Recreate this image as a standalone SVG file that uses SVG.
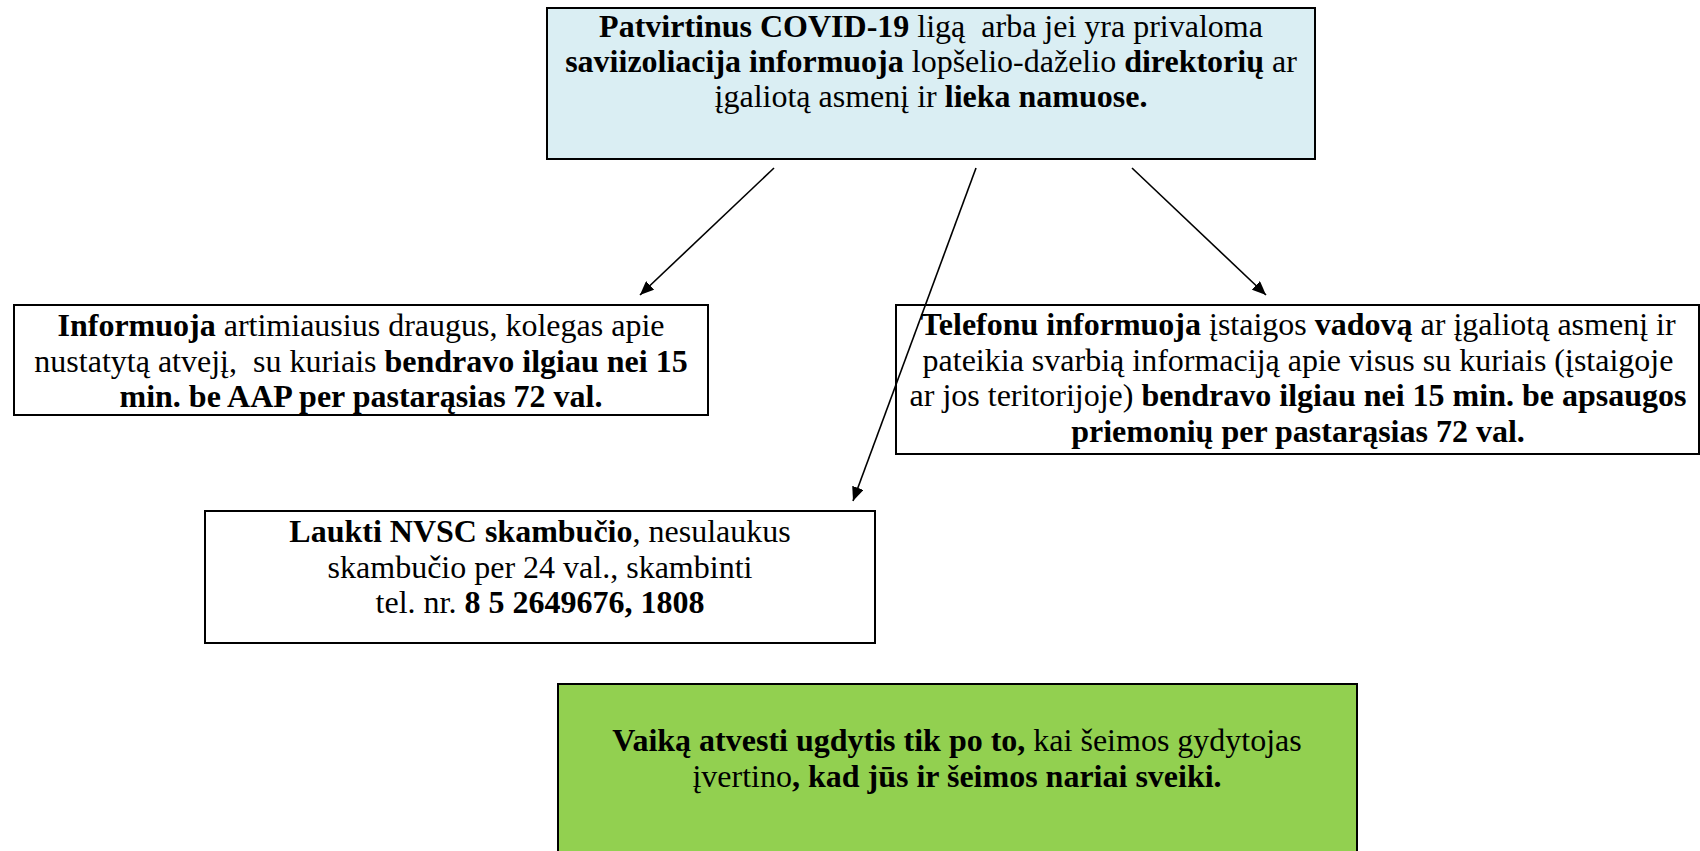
<svg xmlns="http://www.w3.org/2000/svg" width="1700" height="851" viewBox="0 0 1700 851">
<style>
.box{stroke:#000;stroke-width:2}
.t{font-family:"Liberation Serif","Times New Roman",serif;font-size:32px;fill:#000;text-anchor:middle;white-space:pre}
.b{font-weight:bold}
.c{stroke:#000;stroke-width:1.6;fill:none}
</style>
<defs>
<marker id="ah" viewBox="0 0 14 12" refX="14" refY="6" markerWidth="14" markerHeight="12" markerUnits="userSpaceOnUse" orient="auto">
<path d="M0,0 L14,6 L0,12 z" fill="#000"/>
</marker>
</defs>
<rect width="1700" height="851" fill="#fff"/>
<g id="top">
<rect class="box" x="547" y="8" width="768" height="151" fill="#DAEEF3"/>
<text class="t" x="931" y="37" xml:space="preserve"><tspan class="b">Patvirtinus COVID-19</tspan> ligą  arba jei yra privaloma</text>
<text class="t" x="931" y="72"><tspan class="b">saviizoliacija informuoja</tspan> lopšelio-daželio <tspan class="b">direktorių</tspan> ar</text>
<text class="t" x="931" y="107">įgaliotą asmenį ir <tspan class="b">lieka namuose.</tspan></text>
</g>
<g id="left">
<rect class="box" x="14" y="305" width="694" height="110" fill="#fff"/>
<text class="t" x="361" y="336"><tspan class="b">Informuoja</tspan> artimiausius draugus, kolegas apie</text>
<text class="t" x="361" y="372" xml:space="preserve">nustatytą atvejį,  su kuriais <tspan class="b">bendravo ilgiau nei 15</tspan></text>
<text class="t b" x="361" y="407">min. be AAP per pastarąsias 72 val.</text>
</g>
<g id="right">
<rect class="box" x="896" y="305" width="803" height="149" fill="#fff"/>
<text class="t" x="1298" y="335"><tspan class="b">Telefonu informuoja</tspan> įstaigos <tspan class="b">vadovą</tspan> ar įgaliotą asmenį ir</text>
<text class="t" x="1298" y="371">pateikia svarbią informaciją apie visus su kuriais (įstaigoje</text>
<text class="t" x="1298" y="406">ar jos teritorijoje) <tspan class="b">bendravo ilgiau nei 15 min. be apsaugos</tspan></text>
<text class="t b" x="1298" y="442">priemonių per pastarąsias 72 val.</text>
</g>
<g id="middle">
<rect class="box" x="205" y="511" width="670" height="132" fill="#fff"/>
<text class="t" x="540" y="542"><tspan class="b">Laukti NVSC skambučio</tspan>, nesulaukus</text>
<text class="t" x="540" y="578">skambučio per 24 val., skambinti</text>
<text class="t" x="540" y="613">tel. nr. <tspan class="b">8 5 2649676, 1808</tspan></text>
</g>
<g id="bottom">
<rect class="box" x="558" y="684" width="799" height="180" fill="#92D050"/>
<text class="t" x="957" y="751"><tspan class="b">Vaiką atvesti ugdytis tik po to,</tspan> kai šeimos gydytojas</text>
<text class="t" x="957" y="787">įvertino<tspan class="b">, kad jūs ir šeimos nariai sveiki.</tspan></text>
</g>
<g id="connectors">
<line class="c" x1="774" y1="168" x2="640" y2="295" marker-end="url(#ah)"/>
<line class="c" x1="976" y1="168" x2="853" y2="501" marker-end="url(#ah)"/>
<line class="c" x1="1132" y1="168" x2="1266" y2="295" marker-end="url(#ah)"/>
</g>
</svg>
